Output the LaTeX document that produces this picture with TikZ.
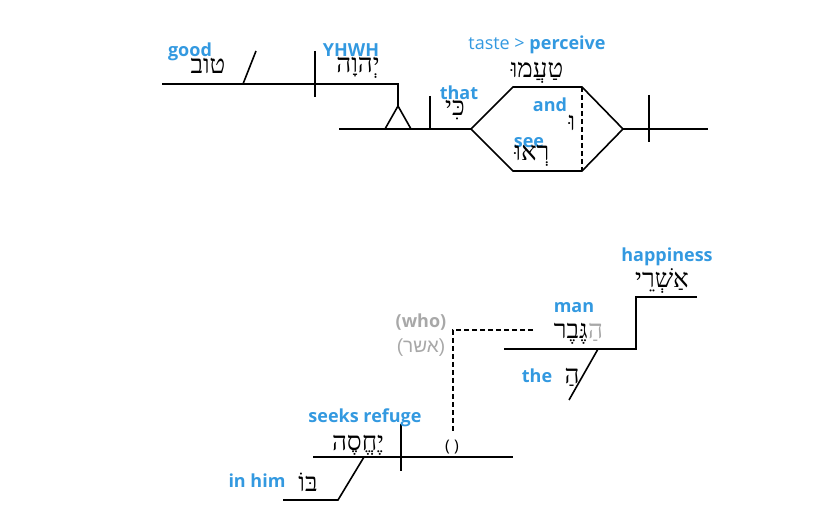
\documentclass[tikz,border=0pt]{standalone}
\usepackage{fontspec}
\setmainfont{Open Sans}
\newfontfamily\hebfont[Script=Hebrew]{Liberation Serif}
\newfontfamily\hebsans[Script=Hebrew]{Liberation Sans}
\TeXXeTstate=1
\usetikzlibrary{positioning}
\definecolor{gloss}{HTML}{3399E0}
\definecolor{implied}{HTML}{A8A8A8}

\tikzset{
  eng/.style={text=gloss, font=\bfseries\fontsize{18}{20}\selectfont, inner sep=0pt, anchor=base},
  heb/.style={font=\hebfont\fontsize{26}{28}\selectfont, inner sep=0pt, anchor=base},
  rule/.style={line width=1.6pt},
  hidden/.style={line width=1.2pt, dash pattern=on 5pt off 3pt}
}

\begin{document}
\begin{tikzpicture}[x=1pt, y=-1pt]
  \useasboundingbox (0,0) rectangle (825,529);

  % clause 1: taste and see that YHWH is good
  \coordinate (pred-l) at (162,84);
  \coordinate (pred-r) at (398,84);
  \coordinate (apex) at (398,106);
  \coordinate (tri-l) at (385,129);
  \coordinate (tri-r) at (411,129);
  \coordinate (main-l) at (339,129);
  \coordinate (hex-l) at (471,129);
  \coordinate (hex-tl) at (513,87);
  \coordinate (hex-tr) at (582,87);
  \coordinate (hex-r) at (623,129);
  \coordinate (hex-br) at (582,171);
  \coordinate (hex-bl) at (513,171);
  \coordinate (main-r) at (708,129);

  \draw[rule] (pred-l) -- (pred-r) -- (apex);
  \draw[rule] (tri-l) -- (apex) -- (tri-r);
  \draw[rule] (main-l) -- (hex-l);
  \draw[rule] (hex-l) -- (hex-tl) -- (hex-tr) -- (hex-r) -- (hex-br) -- (hex-bl) -- cycle;
  \draw[rule] (hex-r) -- (main-r);
  \draw[hidden] (hex-tr) -- (hex-br);
  \draw[rule] (243,84) -- (256,51);
  \draw[rule] (315,51) -- (315,97);
  \draw[rule] (430,96) -- (430,129);
  \draw[rule] (649,95) -- (649,142);

  \node[eng] (good) at (190,57) {good};
  \node[heb] (tov) at (208,74) {\beginR טוב\endR};
  \node[eng] (yhwh) at (351,57) {YHWH};
  \node[heb] (yhwh-h) at (358,73) {\beginR יְהוָה\endR};
  \node[eng] (that) at (459,100) {that};
  \node[heb] (ki) at (455,116) {\beginR כִּי\endR};
  \node[eng] (taste) at (537,50) {\mdseries taste > \bfseries perceive};
  \node[heb] (taamu) at (537,78) {\beginR טַעֲמוּ\endR};
  \node[eng] (and) at (550,112) {and};
  \node[heb] (vav) at (572,131) {\beginR וּ\endR};
  \node[eng] (see) at (529,148) {see};
  \node[heb] (reu) at (532,161) {\beginR רְאוּ\endR};

  % clause 2: happy is the man who seeks refuge in him
  \coordinate (subj-top-r) at (697,297);
  \coordinate (step-top) at (636,297);
  \coordinate (step-bot) at (636,349);
  \coordinate (subj-l) at (504,349);
  \coordinate (art-top) at (598,349);
  \coordinate (art-bot) at (569,400);
  \coordinate (rel-r) at (533,330);
  \coordinate (rel-c) at (453,330);
  \coordinate (rel-b) at (453,432);
  \coordinate (sub-l) at (313,457);
  \coordinate (sub-r) at (513,457);
  \coordinate (pp-top) at (364,457);
  \coordinate (pp-bend) at (338,500);
  \coordinate (pp-end) at (283,500);

  \draw[rule] (subj-top-r) -- (step-top) -- (step-bot) -- (subj-l);
  \draw[rule] (art-top) -- (art-bot);
  \draw[hidden] (rel-r) -- (rel-c) -- (rel-b);
  \draw[rule] (sub-l) -- (sub-r);
  \draw[rule] (401,424) -- (401,471);
  \draw[rule] (pp-top) -- (pp-bend) -- (pp-end);

  \node[eng] (happy) at (667,262) {happiness};
  \node[heb] (ashrei) at (662,288) {\beginR אַשְׁרֵי\endR};
  \node[eng] (man) at (574,313) {man};
  \node[heb, anchor=base east] (gever) at (588,339) {\beginR גֶּבֶר\endR};
  \node[heb, anchor=base west, text=implied] (gever-art) at (gever.base east) {\beginR הַ\endR};
  \node[eng] (the) at (537,383) {the};
  \node[heb] (ha) at (572,384) {\beginR הַ\endR};
  \node[eng, text=implied] (who) at (421,328) {(who)};
  \node[heb, text=implied, font=\hebsans\fontsize{19}{21}\selectfont] (asher) at (421,353) {\beginR(אשר)\endR};
  \node[eng] (refuge) at (365,422) {seeks refuge};
  \node[heb] (yechseh) at (358,450) {\beginR יֶחֱסֶה\endR};
  \node[anchor=base, inner sep=0pt, font=\fontsize{16}{18}\selectfont] (gap) at (452,451) {( )};
  \node[eng] (inhim) at (257,487) {in him};
  \node[heb] (bo) at (308,491) {\beginR בּוֹ\endR};
\end{tikzpicture}
\end{document}
